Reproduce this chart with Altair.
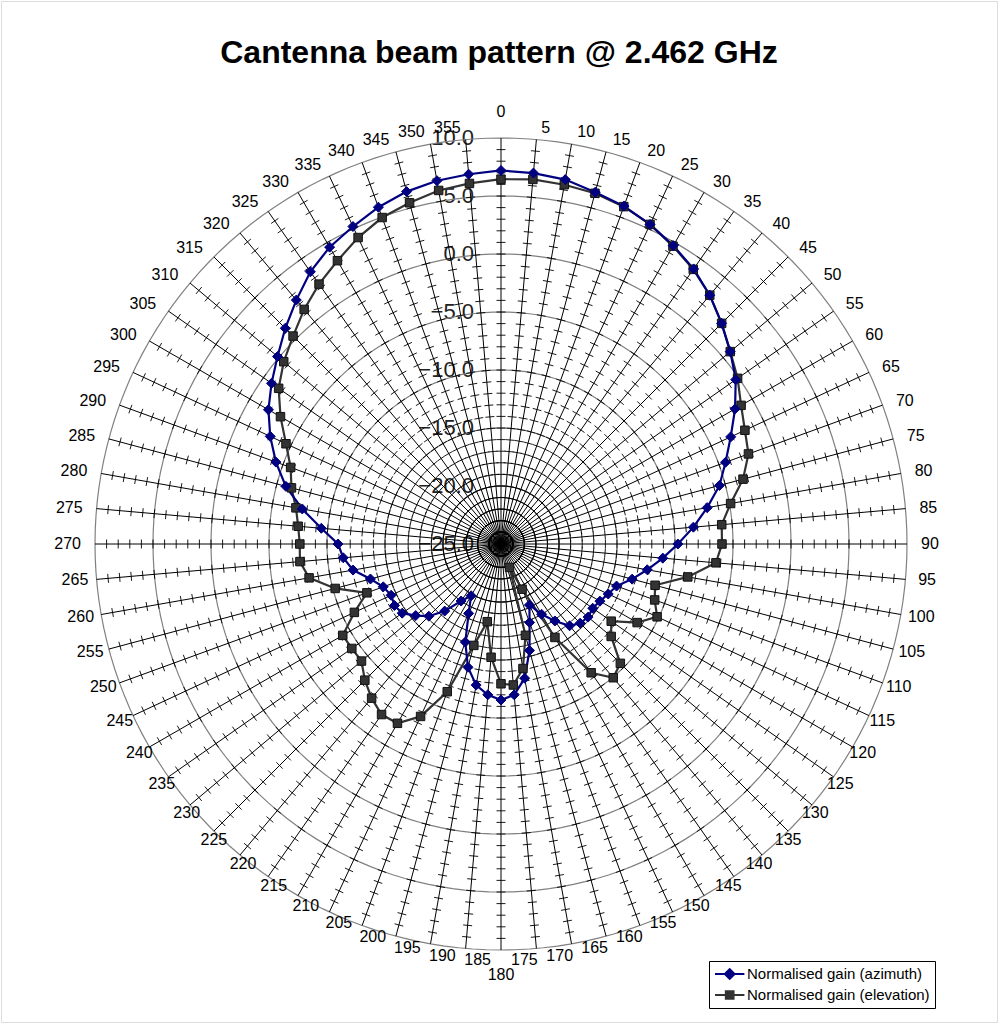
import altair as alt
import pandas as pd

TITLE = "Cantenna beam pattern @ 2.462 GHz"
SERIES = ["Normalised gain (azimuth)", "Normalised gain (elevation)"]
ANGLES = list(range(0, 360, 5))

AZIMUTH = [7.2, 7.1, 6.9, 6.4, 6.0, 5.4, 4.7, 3.95, 3.0, 1.9,
           0.8, -0.3, -1.7, -3.15, -4.4, -5.5, -6.95, -8.35, -9.75, -11.0,
           -12.2, -13.3, -14.4, -14.8, -15.15, -15.35, -15.2, -15.35, -15.8, -16.9,
           -18.0, -19.2, -17.8, -15.5, -13.25, -11.95, -11.55, -11.95, -12.65, -14.0,
           -16.0, -18.4, -19.85, -19.0, -17.45, -16.2, -15.4, -14.6, -14.4, -14.55,
           -14.2, -13.35, -12.05, -11.35, -10.95, -9.45, -7.6, -5.8, -4.35, -3.05,
           -1.85, -0.85, 0.15, 1.3, 2.45, 3.65, 4.55, 5.2, 5.9, 6.45,
           6.8, 7.0]

ELEVATION = [6.45, 6.55, 6.45, 6.3, 5.95, 5.4, 4.65, 3.9, 3.0, 1.9,
             0.8, -0.1, -1.1, -1.8, -2.3, -3.4, -4.9, -5.9, -5.95, -6.4,
             -8.65, -11.25, -10.9, -10.15, -11.45, -13.4, -12.6, -10.45, -9.95, -11.45,
             -15.7, -20.7, -22.85, -16.85, -14.1, -12.8, -12.95, -15.2, -18.2, -15.95,
             -11.45, -8.6, -7.15, -7.05, -7.65, -8.4, -9.3, -9.3, -9.25, -11.05,
             -12.7, -10.2, -8.2, -7.6, -7.65, -7.45, -7.05, -6.3, -5.7, -4.55,
             -3.05, -1.6, -0.55, 0.35, 1.4, 2.35, 3.2, 4.15, 4.95, 5.45,
             5.95, 6.2]

AXIS_VALUES = [-25, -20, -15, -10, -5, 0, 5, 10]
RING_VALUES = [-20, -15, -10, -5, 0, 5, 10]
TICK_STEPS = list(range(1, 35))

# ---- geometry / styling (not data) ----
R0, RMAX = -25.0, 10.0
SPAN = RMAX - R0
K = 11.6                 # pixels per dB
W, H = 996, 1021         # plot area
CX, CY = 500.0, 543.0    # centre inside plot area
FONT = "Liberation Sans"
NAVY = "#000080"
DARK = "#333333"

xs = alt.Scale(domain=[-CX / K, (W - CX) / K], nice=False, zero=False)
ys = alt.Scale(domain=[-(H - CY) / K, CY / K], nice=False, zero=False)


def X(f):
    return alt.X(f, type="quantitative", scale=xs, axis=None)


def Y(f):
    return alt.Y(f, type="quantitative", scale=ys, axis=None)


SIN = "sin(datum.angle*PI/180)"
COS = "cos(datum.angle*PI/180)"

# rings
ring_df = pd.DataFrame([(v, a) for v in RING_VALUES for a in range(0, 361, 2)],
                       columns=["ring", "angle"])
rings = alt.Chart(ring_df).transform_calculate(
    rr=f"datum.ring - ({R0})",
    x=f"datum.rr*{SIN}",
    y=f"datum.rr*{COS}",
).mark_line(color="#808080", strokeWidth=1.2).encode(
    x=X("x"), y=Y("y"), detail="ring:N", order="angle:Q")

# spokes
spoke_df = pd.DataFrame({"angle": ANGLES})
spokes = alt.Chart(spoke_df).transform_calculate(
    x0="0", y0="0",
    x1=f"{SPAN}*{SIN}", y1=f"{SPAN}*{COS}",
).mark_rule(color="#000000", strokeWidth=1).encode(
    x=X("x0"), y=Y("y0"), x2="x1:Q", y2="y1:Q")

# tick marks on every spoke
tick_df = pd.DataFrame([(a, t) for a in ANGLES for t in TICK_STEPS], columns=["angle", "r"])
HT = 4.5 / K
ticks = alt.Chart(tick_df).transform_calculate(
    s=SIN, c=COS,
).transform_calculate(
    x0=f"datum.r*datum.s - {HT}*datum.c",
    x1=f"datum.r*datum.s + {HT}*datum.c",
    y0=f"datum.r*datum.c + {HT}*datum.s",
    y1=f"datum.r*datum.c - {HT}*datum.s",
).mark_rule(color="#000000", strokeWidth=0.9).encode(
    x=X("x0"), y=Y("y0"), x2="x1:Q", y2="y1:Q")

# radial axis labels
rad_df = pd.DataFrame({"value": AXIS_VALUES})
radial = alt.Chart(rad_df).transform_calculate(
    x="0", y=f"datum.value - ({R0})", txt="format(datum.value, '.1f')",
).mark_text(align="right", baseline="middle", dx=-27, font=FONT, fontSize=22,
            color="#222222").encode(x=X("x"), y=Y("y"), text="txt:N")

# angle labels (Excel-like placement)
lab_df = pd.DataFrame({"angle": ANGLES, "label": [str(a) for a in ANGLES]})
lab_base = alt.Chart(lab_df).transform_calculate(
    s=SIN, c=COS,
).transform_calculate(
    g=f"(4 + 10*abs(datum.s))/{K}",
    ex=f"{SPAN}*datum.s", ey=f"{SPAN}*datum.c",
).transform_calculate(
    y=f"abs(datum.s) < 0.01 ? datum.ey + (datum.c > 0 ? 26 : -25)/{K} : datum.ey + 12*datum.c/{K}",
)
lab_style = dict(baseline="middle", font=FONT, fontSize=16, color="black")
labels_right = lab_base.transform_filter("datum.s >= 0.01 && datum.c >= -0.01").transform_calculate(
    x="datum.ex + datum.g").mark_text(align="left", **lab_style).encode(
    x=X("x"), y=Y("y"), text="label:N")
labels_left = lab_base.transform_filter("datum.s <= -0.01 && datum.c >= -0.01").transform_calculate(
    x="datum.ex - datum.g").mark_text(align="right", **lab_style).encode(
    x=X("x"), y=Y("y"), text="label:N")
labels_bottom = lab_base.transform_filter("abs(datum.s) >= 0.01 && datum.c < -0.01").transform_calculate(
    x=f"datum.ex + (datum.s > 0 ? 1 : -1)*(-12 + 34*pow(abs(datum.s), 3))/{K}").mark_text(
    align="center", **lab_style).encode(x=X("x"), y=Y("y"), text="label:N")
labels_mid = lab_base.transform_filter("abs(datum.s) < 0.01").transform_calculate(
    x="datum.ex").mark_text(align="center", **lab_style).encode(
    x=X("x"), y=Y("y"), text="label:N")

# series
n = len(ANGLES)
data = pd.DataFrame({
    "angle": ANGLES * 2,
    "value": AZIMUTH + ELEVATION,
    "series": [SERIES[0]] * n + [SERIES[1]] * n,
})
base = alt.Chart(data).transform_calculate(
    rr=f"datum.value - ({R0})",
).transform_calculate(
    x=f"datum.rr*{SIN}", y=f"datum.rr*{COS}",
)

line_el = base.transform_filter(alt.datum.series == SERIES[1]).mark_line(
    interpolate="linear-closed", color=DARK, strokeWidth=2.2).encode(
    x=X("x"), y=Y("y"), order="angle:Q")
line_az = base.transform_filter(alt.datum.series == SERIES[0]).mark_line(
    interpolate="linear-closed", color=NAVY, strokeWidth=2.2).encode(
    x=X("x"), y=Y("y"), order="angle:Q")
pts_el = base.transform_filter(alt.datum.series == SERIES[1]).mark_point(
    shape="square", filled=True, size=72, opacity=1, fill=DARK, stroke="#111111",
    strokeWidth=1).encode(x=X("x"), y=Y("y"))
pts_az = base.transform_filter(alt.datum.series == SERIES[0]).mark_point(
    shape="diamond", filled=True, size=100, opacity=1, fill=NAVY, stroke=NAVY,
    strokeWidth=1).encode(x=X("x"), y=Y("y"))

# legend (legend-only layer)
PATH_AZ = "M-1,0H3.2M1.1,-0.7L1.8,0L1.1,0.7L0.4,0Z"
PATH_EL = "M-1,0H3.2M0.55,-0.55H1.65V0.55H0.55Z"
leg = alt.Legend(title=None, orient="none", legendX=708, legendY=960, padding=5,
                 strokeColor="#000000", fillColor="#ffffff", symbolSize=196,
                 symbolStrokeWidth=2, labelFont=FONT, labelFontSize=15,
                 labelColor="#000000", labelOffset=17, rowPadding=4, labelLimit=400)
legend_layer = base.transform_filter("false").mark_point(filled=True, opacity=1).encode(
    x=X("x"), y=Y("y"),
    shape=alt.Shape("series:N", scale=alt.Scale(domain=SERIES, range=[PATH_AZ, PATH_EL]), legend=leg),
    fill=alt.Fill("series:N", scale=alt.Scale(domain=SERIES, range=[NAVY, DARK]), legend=leg),
    stroke=alt.Stroke("series:N", scale=alt.Scale(domain=SERIES, range=[NAVY, DARK]), legend=leg),
)

chart = alt.layer(
    radial, rings, spokes, ticks, line_el, line_az, pts_el, pts_az,
    labels_right, labels_left, labels_bottom, labels_mid, legend_layer
).properties(
    width=W, height=H,
    padding={"left": 1, "top": 1, "right": 2, "bottom": 2},
    autosize=alt.AutoSizeParams(type="none"),
    title=alt.TitleParams(TITLE, font=FONT, fontSize=32, fontWeight="bold", color="black",
                          anchor="middle", frame="group", offset=0,
                          baseline="alphabetic", dy=94),
).configure_view(stroke="#333333", strokeWidth=2).configure(background="white")

chart.save("out.html", embed_options={"renderer": "svg", "actions": False})
